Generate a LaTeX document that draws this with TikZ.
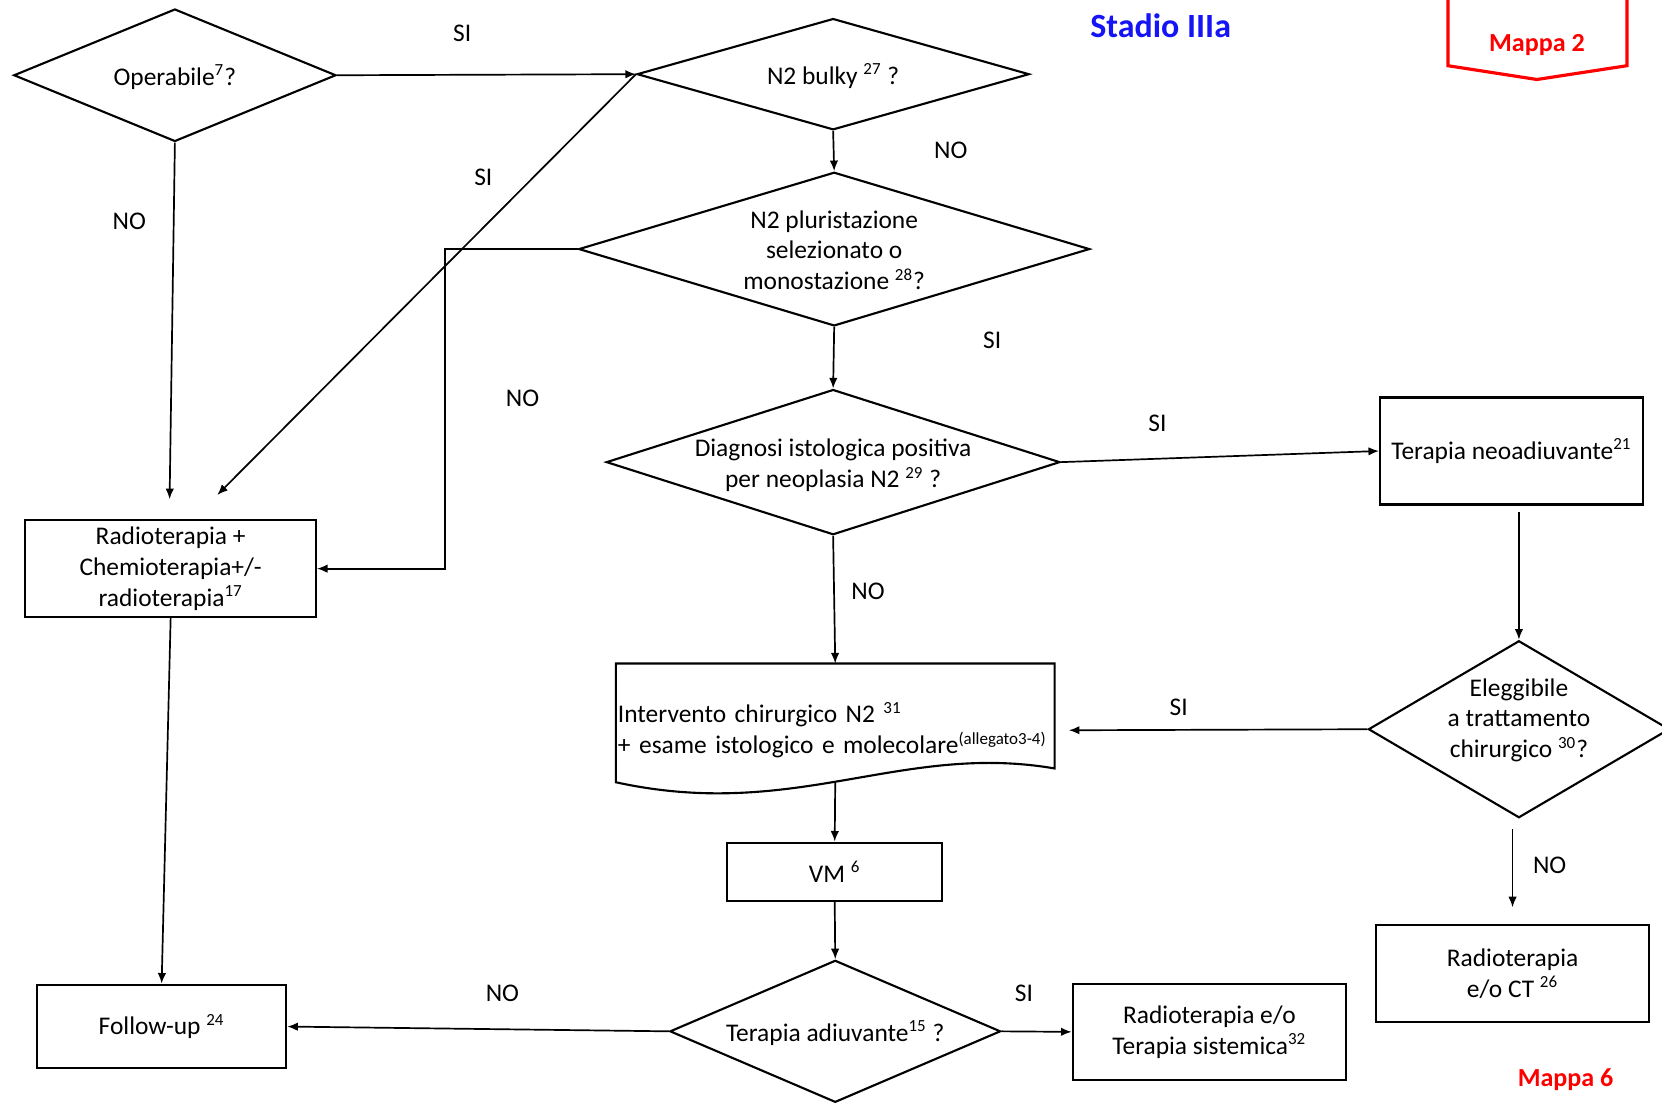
\documentclass[tikz,border=0pt]{standalone}
\usepackage{fontspec}
\setmainfont{Carlito}
\usetikzlibrary{shapes.geometric,arrows.meta}
\definecolor{mapred}{HTML}{FF0000}
\definecolor{stageblue}{HTML}{1414F5}
\newcommand{\dtxt}[2][-4.75pt]{\makebox[0pt]{\raisebox{#1}[0pt][0pt]{\begin{tabular}{@{}c@{}}#2\end{tabular}}}}

\tikzset{
  dec/.style={diamond, draw, line width=1pt, inner sep=0pt},
  box/.style={rectangle, draw, line width=1pt, align=center, inner sep=2pt},
  arr/.style={-{Latex[length=5pt,width=4pt]}, line width=0.8pt},
  yn/.style={inner sep=1pt},
}

\begin{document}
\begin{tikzpicture}[x=0.5pt, y=-0.5pt, font=\fontsize{12}{14.5}\selectfont]
    \useasboundingbox (0,0) rectangle (1568,1042);

    % decisions
    \node[dec, minimum width=152pt, minimum height=62.5pt] (oper) at (165,71)
      {\dtxt{Operabile\textsuperscript{7}?}};
    \node[dec, minimum width=185pt, minimum height=52.5pt] (bulky) at (786,70)
      {\dtxt{N2 bulky \textsuperscript{27} ?}};
    \node[dec, minimum width=241pt, minimum height=72.5pt] (pluri) at (787,235)
      {\dtxt{N2 pluristazione\\selezionato o\\monostazione \textsuperscript{28}?}};
    \node[dec, minimum width=214pt, minimum height=68.5pt] (diag) at (786,436)
      {\dtxt{Diagnosi istologica positiva\\per neoplasia N2 \textsuperscript{29} ?}};
    \node[dec, minimum width=142pt, minimum height=83.5pt] (eleg) at (1433,688)
      {\dtxt[1pt]{Eleggibile\\a trattamento\\chirurgico \textsuperscript{30}?}};
    \node[dec, minimum width=156pt, minimum height=67pt] (adiu) at (788,973)
      {\dtxt{Terapia adiuvante\textsuperscript{15} ?}};

    % boxes
    \node[box, minimum width=137pt, minimum height=45.5pt] (chemio) at (161,536.5)
      {Radioterapia +\\Chemioterapia+/-\\radioterapia\textsuperscript{17}};
    \node[box, minimum width=124pt, minimum height=50.5pt] (neo) at (1426,425.5)
      {Terapia neoadiuvante\textsuperscript{21}};
    \node[box, minimum width=129pt, minimum height=45.5pt] (rtct) at (1427,918.5)
      {Radioterapia\\e/o CT \textsuperscript{26}};
    \node[box, minimum width=101.5pt, minimum height=27.5pt] (vm) at (787.5,822.5)
      {VM \textsuperscript{6}};
    \node[box, minimum width=129pt, minimum height=45.5pt] (sist) at (1141,973.5)
      {Radioterapia e/o\\Terapia sistemica\textsuperscript{32}};
    \node[box, minimum width=117.5pt, minimum height=39.5pt] (fu) at (152.5,968.5)
      {Follow-up \textsuperscript{24}};

    % surgery (document shape)
    \draw[line width=1pt] (581,626) -- (995,626) -- (995,725)
      .. controls (850,700) and (750,775) .. (581,738) -- cycle;
    \node[text width=205pt, align=left, inner xsep=1.5pt] (interv) at (788,689)
      {Intervento chirurgico N2 \textsuperscript{31}\\+ esame istologico e molecolare\textsuperscript{(allegato3-4)}};
    \coordinate (wave) at (788,737);

    % free arrow ends
    \coordinate (chemiotop) at (160,471);
    \coordinate (chemiodiag) at (205,467);

    % connectors
    \draw[arr] (oper.east) -- (bulky.west);
    \draw[arr] (oper.south) -- (chemiotop);
    \draw[arr] (bulky.west) -- (chemiodiag);
    \draw[arr] (bulky.south) -- (pluri.north);
    \draw[arr] (pluri.west) -- ++(-125,0) |- (chemio.east);
    \draw[arr] (pluri.south) -- (diag.north);
    \draw[arr] (diag.east) -- (neo.west);
    \draw[arr] (diag.south) -- (interv.north |- 0,626);
    \draw[arr, shorten <=3pt] (eleg.north |- neo.south) -- (eleg.north);
    \draw[arr, shorten >=6pt] (eleg.west) -- (interv.east);
    \draw[arr, shorten <=5pt, shorten >=8pt] (rtct.north |- eleg.south) -- (rtct.north);
    \draw[arr] (wave) -- (vm.north);
    \draw[arr] (vm.south) -- (adiu.north);
    \draw[arr] (adiu.west) -- (fu.east);
    \draw[arr] (adiu.east) -- (sist.west);
    \draw[arr] (chemio.south) -- (fu.north);

    % answers
    \node[yn] (si1) at (436,31) {SI};
    \node[yn] (no1) at (122,209) {NO};
    \node[yn] (si2) at (456,167) {SI};
    \node[yn] (no2) at (897,142) {NO};
    \node[yn] (si3) at (936,321) {SI};
    \node[yn] (no3) at (493,376) {NO};
    \node[yn] (si4) at (1092,399) {SI};
    \node[yn] (no4) at (819,558) {NO};
    \node[yn] (si5) at (1112,667) {SI};
    \node[yn] (no5) at (1462,816) {NO};
    \node[yn] (no6) at (474,937) {NO};
    \node[yn] (si6) at (966,937) {SI};

    % titles
    \node[text=stageblue, font=\fontsize{16}{19}\selectfont\bfseries] (stadio) at (1095,24) {Stadio IIIa};
    \draw[mapred, line width=1.5pt] (1366,0) -- (1366,62) -- (1450,75) -- (1535,62) -- (1535,0);
    \node[text=mapred, font=\fontsize{12.3}{15}\selectfont\bfseries] (mappa2) at (1450,42) {Mappa 2};
    \node[text=mapred, font=\fontsize{12.3}{15}\selectfont\bfseries] (mappa6) at (1477,1019) {Mappa 6};
\end{tikzpicture}
\end{document}
